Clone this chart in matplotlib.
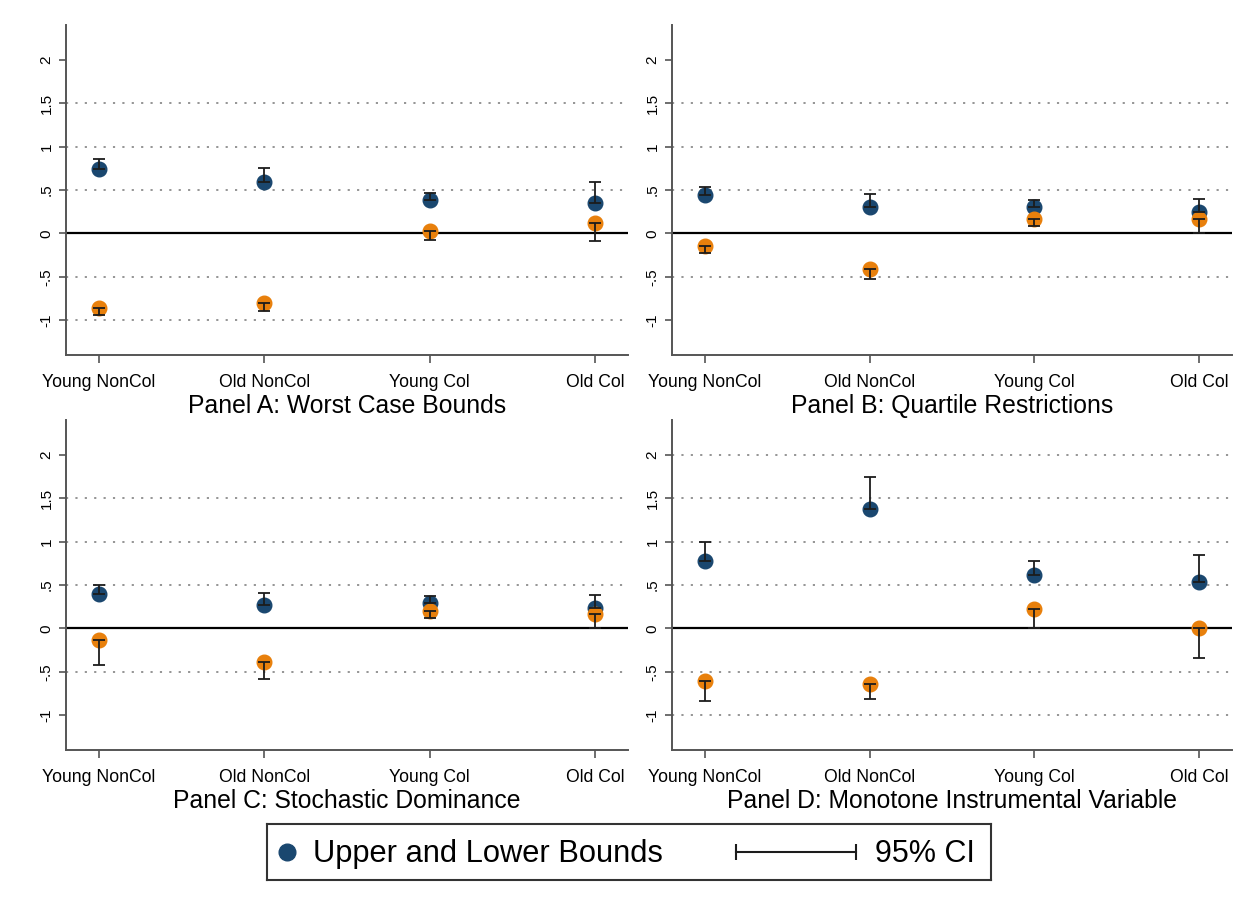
import matplotlib
matplotlib.use("Agg")
import matplotlib.pyplot as plt
from matplotlib.lines import Line2D

plt.rcParams['font.family'] = ['Liberation Sans', 'DejaVu Sans']

####  DATA
groups = ["Young NonCol", "Old NonCol", "Young Col", "Old Col"]
titles = ["Panel A: Worst Case Bounds", "Panel B: Quartile Restrictions",
          "Panel C: Stochastic Dominance", "Panel D: Monotone Instrumental Variable"]

upper    = [[0.74, 0.59, 0.38, 0.35],
            [0.44, 0.31, 0.30, 0.25],
            [0.40, 0.27, 0.29, 0.23],
            [0.78, 1.38, 0.62, 0.54]]
upper_ci = [[0.86, 0.75, 0.47, 0.59],
            [0.54, 0.45, 0.38, 0.40],
            [0.50, 0.41, 0.37, 0.39],
            [1.00, 1.74, 0.78, 0.85]]
lower    = [[-0.86, -0.80, 0.03, 0.12],
            [-0.15, -0.41, 0.17, 0.17],
            [-0.13, -0.39, 0.20, 0.17],
            [-0.60, -0.64, 0.22, 0.00]]
lower_ci = [[-0.94, -0.89, -0.08, -0.09],
            [-0.23, -0.52, 0.08, 0.00],
            [-0.42, -0.58, 0.12, 0.01],
            [-0.84, -0.81, 0.01, -0.34]]
grid_lines = [[-1, -0.5, 0.5, 1, 1.5],
              [-0.5, 0.5, 1, 1.5],
              [-0.5, 0.5, 1, 1.5],
              [-1, -0.5, 0.5, 1, 1.5, 2]]
yticks = [-1, -0.5, 0, 0.5, 1, 1.5, 2]
ytick_labels = ["-1", "-.5", "0", ".5", "1", "1.5", "2"]

NAVY = "#1a476f"
ORANGE = "#e8800c"
W, H = 1251, 909

##  axes boxes in pixels: left, top, right, bottom
boxes = [(66, 25, 628, 355), (672, 25, 1232, 355),
         (66, 420, 628, 750), (672, 420, 1232, 750)]

fig = plt.figure(figsize=(W / 100, H / 100), dpi=100)

for i in range(4):
    l, t, r, b = boxes[i]
    ax = fig.add_axes([l / W, 1 - b / H, (r - l) / W, (b - t) / H])
    x = list(range(len(groups)))

    for g in grid_lines[i]:
        ax.axhline(g, color="#8c8c8c", lw=1.3, ls=(0, (1.2, 4)), zorder=1)
    ax.axhline(0, color="black", lw=1.6, zorder=1.5)

    ax.plot(x, upper[i], "o", color=NAVY, ms=10.5, zorder=3)
    ax.plot(x, lower[i], "o", color=ORANGE, ms=10.5, zorder=3)

    up_err = [[0] * 4, [c - v for c, v in zip(upper_ci[i], upper[i])]]
    lo_err = [[v - c for c, v in zip(lower_ci[i], lower[i])], [0] * 4]
    ax.errorbar(x, upper[i], yerr=up_err, fmt="none", ecolor="#1c1c1c",
                elinewidth=1.3, capsize=4, capthick=1.3, zorder=4)
    ax.errorbar(x, lower[i], yerr=lo_err, fmt="none", ecolor="#1c1c1c",
                elinewidth=1.3, capsize=4, capthick=1.3, zorder=4)

    ax.set_xlim(-0.2, 3.2)
    ax.set_ylim(-1.4, 2.4)
    ax.set_xticks(x)
    ax.set_xticklabels(groups, fontsize=12.7)
    ax.set_yticks(yticks)
    ax.set_yticklabels(ytick_labels, fontsize=11, rotation=90, va="center")
    ax.tick_params(axis="x", length=6, width=1.2, color="#555555", pad=8)
    ax.tick_params(axis="y", length=5, width=1.2, color="#555555", pad=4)

    for s in ["top", "right"]:
        ax.spines[s].set_visible(False)
    for s in ["left", "bottom"]:
        ax.spines[s].set_color("#555555")
        ax.spines[s].set_linewidth(1.4)

    ax.set_xlabel(titles[i], fontsize=17.8, labelpad=1.5)

##  legend box
lx0, ly0, lx1, ly1 = 267, 824, 991, 880
lax = fig.add_axes([lx0 / W, 1 - ly1 / H, (lx1 - lx0) / W, (ly1 - ly0) / H])
lax.set_xlim(0, 1)
lax.set_ylim(0, 1)
lax.set_xticks([])
lax.set_yticks([])
for s in lax.spines.values():
    s.set_color("#333333")
    s.set_linewidth(1.5)
lax.add_line(Line2D([0.0276], [0.5], marker="o", color=NAVY, ms=12, ls="none"))
lax.text(0.0635, 0.47, "Upper and Lower Bounds", fontsize=22.2, va="center", ha="left")
lax.add_line(Line2D([0.648, 0.813], [0.5, 0.5], color="#1c1c1c", lw=1.5,
                    marker="|", ms=11, mew=1.5))
lax.text(0.840, 0.47, "95% CI", fontsize=22, va="center", ha="left")

fig.savefig("out.png", dpi=100)
